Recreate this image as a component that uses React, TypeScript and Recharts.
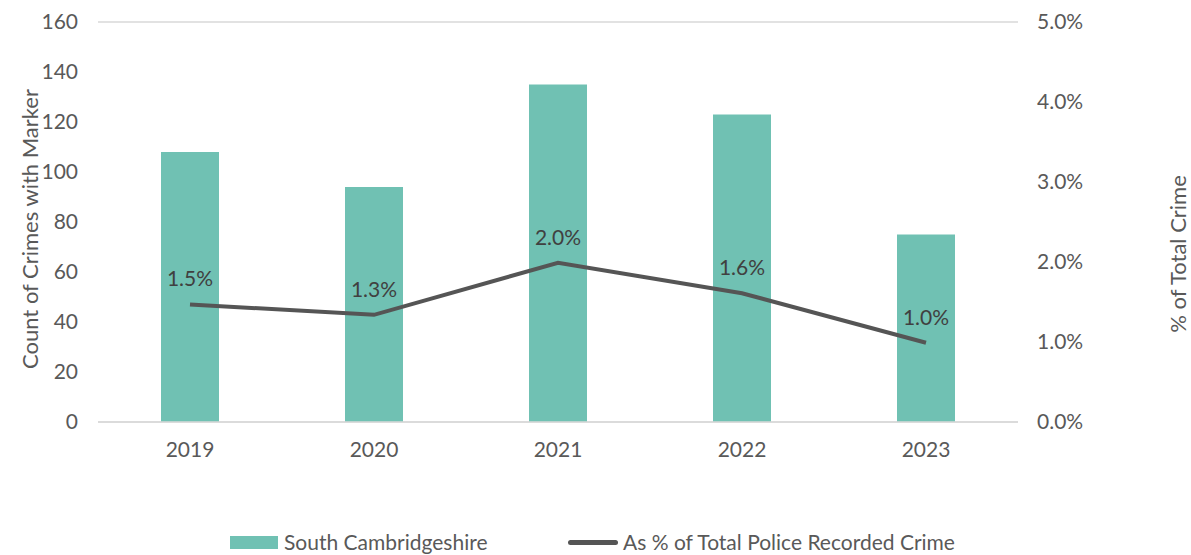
import { ComposedChart, Bar, Line, XAxis, YAxis, CartesianGrid, LabelList } from "recharts";

const years = ["2019", "2020", "2021", "2022", "2023"];
const crimeCounts = [108, 94, 135, 123, 75];
const pctOfTotal = [1.47, 1.34, 1.99, 1.61, 0.99];
const leftTicks = [0, 20, 40, 60, 80, 100, 120, 140, 160];
const rightTicks = [0, 1, 2, 3, 4, 5];

const data = years.map((year, i) => ({
  year,
  count: crimeCounts[i],
  pct: pctOfTotal[i],
}));

const FONT = "Lato, 'Noto Sans', sans-serif";
const TEAL = "#70c1b3";
const LINE = "#555555";
const TICK = { fill: "#595959", fontSize: 21, fontFamily: FONT };

export default function App() {
  return (
    <div style={{ position: "absolute", left: 0, top: 0, width: 1191, height: 555, background: "#fff", overflow: "hidden", fontFamily: FONT }}>
      <ComposedChart
        width={1191}
        height={555}
        data={data}
        margin={{ top: 22, right: 0, left: 0, bottom: 93 }}
        barCategoryGap={63}
      >
        <CartesianGrid vertical={false} stroke="#d9d9d9" strokeWidth={1.5} />
        <XAxis
          dataKey="year"
          axisLine={{ stroke: "#d9d9d9", strokeWidth: 1.5 }}
          tickLine={false}
          tickSize={0}
          tickMargin={20}
          height={40}
          tick={TICK}
        />
        <YAxis
          yAxisId="left"
          width={98}
          domain={[0, 160]}
          ticks={leftTicks}
          axisLine={false}
          tickLine={false}
          tickSize={0}
          tickMargin={20}
          tick={TICK}
        />
        <YAxis
          yAxisId="right"
          orientation="right"
          width={173}
          domain={[0, 5]}
          ticks={rightTicks}
          tickFormatter={(v: number) => `${v.toFixed(1)}%`}
          axisLine={false}
          tickLine={false}
          tickSize={0}
          tickMargin={19}
          tick={TICK}
        />
        <Bar yAxisId="left" dataKey="count" fill={TEAL} isAnimationActive={false} />
        <Line
          yAxisId="right"
          dataKey="pct"
          stroke={LINE}
          strokeWidth={4}
          dot={false}
          activeDot={false}
          isAnimationActive={false}
        >
          <LabelList
            dataKey="pct"
            position="top"
            offset={18}
            formatter={(v: number) => `${v.toFixed(1)}%`}
            style={{ fill: "#404040", fontSize: 21, fontFamily: FONT }}
          />
        </Line>
      </ComposedChart>

      <div style={{ position: "absolute", left: 30, top: 229, transform: "translate(-50%, -50%) rotate(-90deg)", whiteSpace: "nowrap", color: "#595959", fontSize: 22, lineHeight: "24px" }}>
        Count of Crimes with Marker
      </div>
      <div style={{ position: "absolute", left: 1178, top: 254, transform: "translate(-50%, -50%) rotate(-90deg)", whiteSpace: "nowrap", color: "#595959", fontSize: 22, lineHeight: "24px" }}>
        % of Total Crime
      </div>

      <div style={{ position: "absolute", left: 230, top: 530, display: "flex", alignItems: "center", color: "#595959", fontSize: 21, lineHeight: "24px", whiteSpace: "nowrap" }}>
        <span style={{ display: "inline-block", width: 48, height: 13, background: TEAL, marginRight: 6 }} />
        <span>South Cambridgeshire</span>
      </div>
      <div style={{ position: "absolute", left: 568, top: 530, display: "flex", alignItems: "center", color: "#595959", fontSize: 21, lineHeight: "24px", whiteSpace: "nowrap" }}>
        <span style={{ display: "inline-block", width: 50, height: 5, borderRadius: 3, background: LINE, marginRight: 5 }} />
        <span>As % of Total Police Recorded Crime</span>
      </div>
    </div>
  );
}
